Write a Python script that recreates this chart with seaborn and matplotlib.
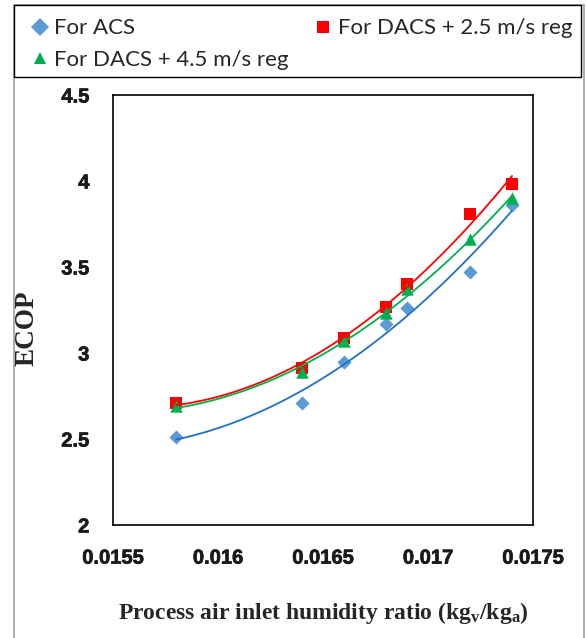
import numpy as np
import pandas as pd
import matplotlib
matplotlib.use("Agg")
import matplotlib.pyplot as plt
import matplotlib.patheffects as pe
import seaborn as sns
from matplotlib.patches import Rectangle
from matplotlib.lines import Line2D

# ---------------- data ----------------
humidity = [0.0158, 0.0164, 0.0166, 0.0168, 0.0169, 0.0172, 0.0174]
ecop_acs = [2.51, 2.71, 2.95, 3.17, 3.26, 3.47, 3.86]
ecop_dacs_25 = [2.71, 2.91, 3.09, 3.27, 3.40, 3.81, 3.98]
ecop_dacs_45 = [2.69, 2.89, 3.07, 3.23, 3.37, 3.66, 3.90]
series_names = ["For ACS", "For DACS + 2.5 m/s reg", "For DACS + 4.5 m/s reg"]
x_ticks = [0.0155, 0.016, 0.0165, 0.017, 0.0175]
x_tick_labels = ["0.0155", "0.016", "0.0165", "0.017", "0.0175"]
y_ticks = [2, 2.5, 3, 3.5, 4, 4.5]
y_tick_labels = ["2", "2.5", "3", "3.5", "4", "4.5"]

df = pd.DataFrame({
    "x": humidity * 3,
    "y": ecop_acs + ecop_dacs_25 + ecop_dacs_45,
    "series": [series_names[0]] * len(humidity)
    + [series_names[1]] * len(humidity)
    + [series_names[2]] * len(humidity),
})

sns.set_style("white")
plt.rcParams["font.family"] = ["Lato", "DejaVu Sans"]
plt.rcParams["mathtext.fontset"] = "custom"
plt.rcParams["mathtext.rm"] = "Liberation Serif:bold"
plt.rcParams["mathtext.it"] = "Liberation Serif:bold"
plt.rcParams["mathtext.bf"] = "Liberation Serif:bold"

W, H = 586, 638
fig = plt.figure(figsize=(W / 100, H / 100), dpi=100)
ax = fig.add_axes([113 / W, 1 - 525 / H, 420 / W, 430 / H])

marker_cols = {series_names[0]: "#5B9BD5", series_names[1]: "#FF0000", series_names[2]: "#00B050"}
line_cols = {series_names[0]: "#1F70C8", series_names[1]: "#FF0000", series_names[2]: "#00B050"}
markers = {series_names[0]: "D", series_names[1]: "s", series_names[2]: "^"}
sizes = {series_names[0]: 52, series_names[1]: 78, series_names[2]: 80}

for name in series_names:
    sub = df[df["series"] == name]
    sns.scatterplot(data=sub, x="x", y="y", ax=ax, marker=markers[name],
                    color=marker_cols[name], s=sizes[name], linewidth=0,
                    zorder=3, legend=False)
for name in series_names:
    sub = df[df["series"] == name]
    sns.regplot(data=sub, x="x", y="y", ax=ax, order=2, ci=None, scatter=False,
                line_kws=dict(color=line_cols[name], lw=1.3, zorder=4))

ax.set_xlim(0.0155, 0.0175)
ax.set_ylim(2, 4.5)
ax.set_xticks(x_ticks)
ax.set_yticks(y_ticks)
ax.tick_params(axis="both", direction="out", length=6, width=1.1, color="black")
ax.tick_params(axis="x", pad=11)
ax.tick_params(axis="y", pad=11)
ax.set_xticklabels(x_tick_labels)
ax.set_yticklabels(y_tick_labels)
for lab in ax.get_xticklabels() + ax.get_yticklabels():
    lab.set_fontfamily("Liberation Sans")
    lab.set_fontweight("bold")
    lab.set_fontsize(14.5)
    lab.set_color("#1a1a1a")
    lab.set_path_effects([pe.withStroke(linewidth=0.5, foreground="#1a1a1a")])
for sp in ax.spines.values():
    sp.set_visible(True)
    sp.set_color("black")
    sp.set_linewidth(1.2)

ax.set_xlabel(r"Process air inlet humidity ratio (kg$_{\mathrm{v}}$/kg$_{\mathrm{a}}$)",
              fontfamily="Liberation Serif", fontweight="bold", fontsize=17)
ax.set_ylabel("ECOP", fontfamily="Liberation Serif", fontweight="bold", fontsize=19.5)
ax.xaxis.set_label_coords(0.5, -0.175)
ax.yaxis.set_label_coords(-0.175, 0.458)

# legend (frame drawn separately to match the off-centre rows)
leg_order = [series_names[0], series_names[2], series_names[1]]
leg_handles = [Line2D([], [], ls="none", marker=markers[n], color=marker_cols[n],
                      markersize=9, markeredgewidth=0)
               for n in leg_order]
leg = fig.legend(leg_handles, leg_order, ncol=2, mode="expand",
                 bbox_to_anchor=(31 / W, 1 - 80 / H, (572 - 31) / W, 72 / H),
                 loc="center", frameon=False,
                 prop={"family": "Lato", "size": 16}, handlelength=0.8,
                 handletextpad=0.25, borderaxespad=0, labelspacing=0.5,
                 borderpad=0.0)
fig.patches.append(Rectangle((14 / W, 1 - 77 / H), (581 - 14) / W, 72 / H,
                             transform=fig.transFigure, fill=False,
                             edgecolor="black", lw=1.0, zorder=1))

# outer chart border
fig.patches.append(Rectangle((14 / W, -0.01), (584 - 14) / W, 1 - 5 / H + 0.01,
                             transform=fig.transFigure, fill=False,
                             edgecolor="#A6A6A6", lw=1.3, zorder=0))

fig.savefig("out.png", dpi=100)
